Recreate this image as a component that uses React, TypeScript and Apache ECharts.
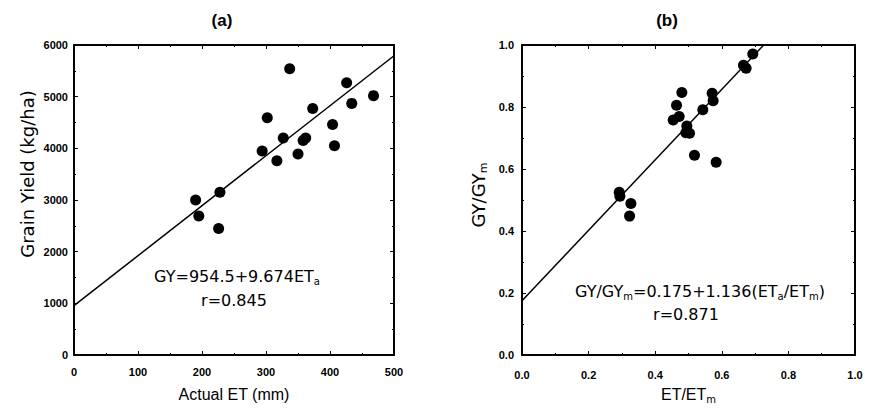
import React, { useEffect, useRef } from "react";
import * as echarts from "echarts";

// Panel (a): Grain yield vs actual ET
const aET = [190, 195, 228, 226, 294, 302, 317, 327, 337, 350, 358, 362, 373, 404, 407, 426, 434, 468];
const aGY = [3000, 2690, 3150, 2450, 3950, 4590, 3760, 4200, 5540, 3890, 4150, 4200, 4770, 4460, 4050, 5270, 4870, 5020];
const aFitX = [0, 500];
const aFitY = [954.5, 5791.5];
const aXTicks = { min: 0, max: 500, interval: 100 };
const aYTicks = { min: 0, max: 6000, interval: 1000 };

// Panel (b): relative yield vs relative ET
const bET = [0.292, 0.294, 0.327, 0.323, 0.454, 0.464, 0.472, 0.48, 0.495, 0.492, 0.503, 0.518, 0.543, 0.571, 0.574, 0.583, 0.665, 0.673, 0.693];
const bGY = [0.525, 0.512, 0.489, 0.448, 0.758, 0.806, 0.769, 0.847, 0.739, 0.717, 0.715, 0.644, 0.791, 0.844, 0.82, 0.622, 0.935, 0.925, 0.971];
const bFitX = [0, 0.726];
const bFitY = [0.175, 1.0];

const TEXT_FONT = "DejaVu Sans";
const TICK_FONT = "Liberation Sans, Arial, sans-serif";

function axisBase(extra: any) {
  return {
    type: "value",
    splitLine: { show: false },
    axisLine: { show: true, onZero: false, lineStyle: { color: "#000", width: 2 } },
    axisTick: { show: true, inside: true, length: 4, lineStyle: { color: "#000", width: 1 } },
    minorTick: { show: true, splitNumber: 2, length: 2, lineStyle: { color: "#000", width: 1 } },
    axisLabel: { color: "#000", fontWeight: "bold", fontSize: 11, fontFamily: TICK_FONT },
    ...extra,
  };
}

export default function App() {
  const ref = useRef<HTMLDivElement>(null);
  useEffect(() => {
    document.body.style.margin = "0";
    if (!ref.current) return;
    const chart = echarts.init(ref.current, undefined, { renderer: "svg" });
    const sub = { fontSize: 10, fontFamily: TEXT_FONT, color: "#000", lineHeight: 10, padding: [10, 0, 0, 0] };
    const main16 = { fontSize: 16, fontFamily: TEXT_FONT, color: "#000", lineHeight: 20 };
    const main18 = { fontSize: 18, fontFamily: TEXT_FONT, color: "#000", lineHeight: 22 };
    const sub11 = { fontSize: 11, fontFamily: TEXT_FONT, color: "#000", lineHeight: 11, padding: [11, 0, 0, 0] };
    const plain = (v: number) => String(v);
    const oneDec = (v: number) => v.toFixed(1);

    const option: any = {
      animation: false,
      backgroundColor: "#fff",
      grid: [
        { left: 74, top: 45, width: 320, height: 310 },
        { left: 522, top: 45, width: 333, height: 310 },
      ],
      xAxis: [
        axisBase({
          gridIndex: 0, position: "bottom", ...aXTicks,
          axisLabel: { color: "#000", fontWeight: "bold", fontSize: 11, fontFamily: TICK_FONT, margin: 11, formatter: plain },
          name: "Actual ET (mm)", nameLocation: "middle", nameGap: 31,
          nameTextStyle: { fontSize: 16, fontFamily: TICK_FONT, color: "#000" },
        }),
        axisBase({ gridIndex: 0, position: "top", ...aXTicks, axisLabel: { show: false } }),
        axisBase({
          gridIndex: 1, position: "bottom", min: 0, max: 1, interval: 0.2,
          axisLabel: { color: "#000", fontWeight: "bold", fontSize: 11, fontFamily: TICK_FONT, margin: 14, formatter: oneDec },
          name: "{n|ET/ET}{s|m}", nameLocation: "middle", nameGap: 27,
          nameTextStyle: { rich: { n: { fontSize: 16, fontFamily: TICK_FONT, color: "#000", lineHeight: 20 }, s: sub } },
        }),
        axisBase({ gridIndex: 1, position: "top", min: 0, max: 1, interval: 0.2, axisLabel: { show: false } }),
      ],
      yAxis: [
        axisBase({
          gridIndex: 0, position: "left", ...aYTicks,
          axisLabel: { color: "#000", fontWeight: "bold", fontSize: 11, fontFamily: TICK_FONT, margin: 6, formatter: plain },
        }),
        axisBase({ gridIndex: 0, position: "right", ...aYTicks, axisLabel: { show: false } }),
        axisBase({
          gridIndex: 1, position: "left", min: 0, max: 1, interval: 0.2,
          axisLabel: { color: "#000", fontWeight: "bold", fontSize: 11, fontFamily: TICK_FONT, margin: 8, formatter: oneDec },
        }),
        axisBase({ gridIndex: 1, position: "right", min: 0, max: 1, interval: 0.2, axisLabel: { show: false } }),
      ],
      series: [
        {
          type: "scatter", xAxisIndex: 0, yAxisIndex: 0, symbolSize: 11,
          itemStyle: { color: "#000", opacity: 1 },
          data: aET.map((x, i) => [x, aGY[i]]),
        },
        {
          type: "line", xAxisIndex: 0, yAxisIndex: 0, showSymbol: false, symbol: "none",
          lineStyle: { color: "#000", width: 1.5 },
          data: aFitX.map((x, i) => [x, aFitY[i]]),
        },
        {
          type: "scatter", xAxisIndex: 2, yAxisIndex: 2, symbolSize: 11,
          itemStyle: { color: "#000", opacity: 1 },
          data: bET.map((x, i) => [x, bGY[i]]),
        },
        {
          type: "line", xAxisIndex: 2, yAxisIndex: 2, showSymbol: false, symbol: "none",
          lineStyle: { color: "#000", width: 1.5 },
          data: bFitX.map((x, i) => [x, bFitY[i]]),
        },
      ],
      graphic: [
        { type: "text", x: 222, y: 20, style: { text: "(a)", fontSize: 17, fontWeight: "bold", fontFamily: TICK_FONT, fill: "#000", align: "center", verticalAlign: "middle" } },
        { type: "text", x: 667, y: 20, style: { text: "(b)", fontSize: 17, fontWeight: "bold", fontFamily: TICK_FONT, fill: "#000", align: "center", verticalAlign: "middle" } },
        {
          type: "text", x: 27, y: 174, rotation: Math.PI / 2,
          style: { text: "Grain Yield (kg/ha)", fontSize: 18, fontFamily: TEXT_FONT, fill: "#000", align: "center", verticalAlign: "middle" },
        },
        {
          type: "text", x: 478, y: 195, rotation: Math.PI / 2,
          style: { text: "{n|GY/GY}{s|m}", rich: { n: main18, s: sub11 }, align: "center", verticalAlign: "middle" },
        },
        {
          type: "text", x: 237, y: 276,
          style: { text: "{n|GY=954.5+9.674ET}{s|a}", rich: { n: main16, s: sub }, align: "center", verticalAlign: "middle" },
        },
        {
          type: "text", x: 234, y: 300,
          style: { text: "r=0.845", fontSize: 16, fontFamily: TEXT_FONT, fill: "#000", align: "center", verticalAlign: "middle" },
        },
        {
          type: "text", x: 700, y: 291,
          style: { text: "{n|GY/GY}{s|m}{n|=0.175+1.136(ET}{s|a}{n|/ET}{s|m}{n|)}", rich: { n: main16, s: sub }, align: "center", verticalAlign: "middle" },
        },
        {
          type: "text", x: 686, y: 314,
          style: { text: "r=0.871", fontSize: 16, fontFamily: TEXT_FONT, fill: "#000", align: "center", verticalAlign: "middle" },
        },
      ],
    };
    chart.setOption(option);
    return () => chart.dispose();
  }, []);
  return <div ref={ref} style={{ width: 873, height: 412 }} />;
}
